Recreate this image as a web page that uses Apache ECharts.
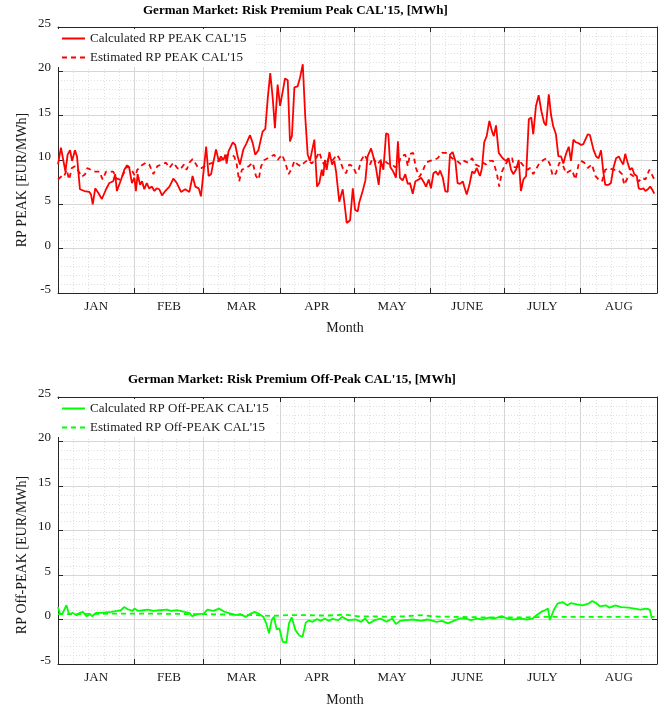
<!DOCTYPE html>
<html>
<head>
<meta charset="utf-8">
<script src="https://cdn.jsdelivr.net/npm/echarts@6/dist/echarts.min.js"></script>
<style>
html,body{margin:0;padding:0;background:#fff;}
#chart{width:659px;height:708px;}
</style>
</head>
<body>
<div id="chart"></div>
<script>
// ---- axis tick data (days counted from 1 Jan) ----
const monthNames = ['JAN','FEB','MAR','APR','MAY','JUNE','JULY','AUG'];
const monthStarts = [0,31,59,90,120,151,181,212,243];
const yTickValues = [-5,0,5,10,15,20,25];

// ---- Peak: calculated ----
const peakCalcDays = [0,1.2,1.9,3.0,3.9,4.9,5.7,6.9,7.7,8.9,
10.7,12.7,13.4,14.1,15.1,16.3,17.8,19.5,20.8,22.4,
23.2,23.9,25.6,26.9,28.0,28.9,30.0,31.0,31.6,32.3,
33.3,34.1,35.0,36.0,37.0,38.1,39.1,40.0,41.1,42.2,
43.5,45.2,46.0,46.8,48.2,49.9,51.6,53.3,54.6,55.7,
57.1,58.0,60.1,61.1,62.1,63.0,64.1,65.2,66.1,67.1,
67.9,68.4,69.2,70.9,71.9,72.9,73.8,75.2,76.3,77.9,
79.0,80.0,81.3,83.0,84.1,85.1,86.1,87.1,88.0,89.1,
90.1,91.2,92.1,93.2,94.1,94.9,95.9,97.2,98.2,99.3,
100.3,101.3,102.2,103.0,104.0,105.1,106.0,107.0,107.6,108.3,
109.0,110.1,111.2,112.1,112.8,114.1,115.5,116.6,117.1,118.5,
119.6,120.5,121.6,122.2,123.6,124.7,125.6,127.0,128.3,129.0,
130.1,131.0,132.0,133.1,134.0,134.8,136.0,137.1,137.9,138.7,
139.8,140.9,141.9,142.8,143.9,145.0,146.3,147.3,148.6,149.3,
150.4,151.3,152.3,153.3,154.2,155.0,156.1,157.1,158.1,159.0,
160.1,161.2,162.1,163.1,164.2,164.8,165.8,166.9,168.0,168.9,
169.9,170.7,171.2,172.0,172.9,173.9,175.0,176.1,176.8,177.7,
178.8,180.4,181.7,182.8,183.8,184.7,185.8,186.9,187.8,188.8,
189.9,191.0,192.0,192.8,193.9,195.0,196.1,197.2,198.0,199.1,
200.0,200.9,202.0,203.0,204.1,205.0,206.1,207.2,208.1,209.1,
210.1,211.2,212.2,213.1,213.9,214.9,215.8,217.2,218.3,219.3,
220.3,221.2,222.0,223.4,224.3,225.3,226.4,227.5,228.4,229.3,
230.1,231.1,232.0,232.9,233.8,234.8,235.6,236.5,237.5,238.3,
239.3,240.2,241.0,241.9];
const peakCalcVals = [9.5,11.4,11.5,8.7,10.6,11.1,9.9,11.1,10.4,6.7,
6.5,6.4,6.1,5.0,6.8,6.3,5.6,6.7,7.4,7.6,
8.4,6.5,7.8,8.9,9.4,9.1,7.4,8.0,6.5,8.4,
7.2,7.6,6.7,7.4,6.8,7.0,6.5,6.8,6.7,6.0,
6.5,7.0,6.8,7.9,7.4,6.4,6.7,6.4,8.2,7.0,
6.8,5.9,11.5,8.2,8.4,9.7,11.2,9.9,10.4,10.0,
10.6,9.6,11.0,12.0,11.7,10.4,9.5,11.2,11.8,12.8,
11.9,10.6,11.1,13.2,13.5,17.0,19.8,17.0,13.6,18.5,
16.1,17.8,19.2,19.0,12.1,12.7,18.2,18.3,19.3,20.8,
14.9,10.6,9.9,9.9,12.3,7.0,7.4,8.9,8.2,10.0,
8.9,10.9,9.5,9.9,8.7,5.3,6.7,4.2,2.9,3.2,
6.8,4.4,4.2,5.2,6.5,7.7,10.4,11.3,10.0,9.1,
7.2,9.9,8.9,13.0,12.9,9.2,8.7,8.0,12.1,8.0,
7.7,8.4,7.3,7.4,6.2,7.6,7.8,8.0,7.4,7.0,
7.8,6.8,8.5,8.7,8.3,8.8,8.0,6.5,6.4,10.6,
10.9,9.9,7.4,7.3,7.6,7.0,6.1,7.2,8.7,8.5,
9.1,8.5,8.2,9.1,12.0,12.7,14.4,13.2,12.7,13.9,
10.8,10.2,9.9,10.2,8.9,8.4,8.9,10.0,6.5,7.8,
8.2,14.6,14.8,12.9,16.1,17.3,15.5,14.2,13.9,17.4,
15.1,13.8,12.9,10.4,10.4,9.6,10.7,11.5,9.9,12.3,
12.0,11.9,11.7,11.8,11.7,12.9,12.8,11.2,10.4,10.2,
11.1,8.7,7.2,7.2,7.4,9.1,10.2,10.4,9.9,9.5,
10.7,9.7,8.9,9.1,8.4,8.2,6.8,6.7,6.8,6.5,
6.7,7.0,6.7,6.2];

// ---- Peak: estimated ----
const peakEstDays = [0,1.5,2.4,3.5,4.5,5.6,6.9,8.2,9.6,11.0,
11.9,13.3,15.0,16.8,18.1,19.5,21.1,22.4,23.8,25.2,
26.5,27.6,28.5,29.9,31.2,32.2,34.0,35.7,37.0,38.7,
40.3,42.1,43.8,45.2,46.8,48.4,49.5,51.1,52.2,53.3,
54.6,55.6,56.9,58.3,60.7,62.9,65.4,67.5,68.8,70.2,
71.5,72.5,73.5,74.6,76.0,77.4,79.0,80.3,81.4,82.4,
83.7,85.1,86.4,87.7,89.1,90.9,92.2,93.6,94.9,95.9,
97.2,98.6,99.9,101.3,103.0,104.7,106.0,107.1,108.4,109.8,
111.2,113.1,114.1,115.5,116.8,118.2,119.6,120.9,122.0,122.9,
124.3,125.6,126.6,127.8,129.4,131.0,132.4,133.9,135.5,136.7,
137.9,139.1,140.9,141.9,142.8,144.1,145.2,146.6,147.9,149.3,
150.9,152.5,154.0,155.8,157.4,159.0,160.8,162.3,163.5,164.8,
166.3,168.0,169.3,170.8,172.3,173.6,175.0,176.5,178.0,179.0,
180.1,181.5,183.1,184.2,185.1,186.4,187.8,189.2,190.5,191.5,
192.8,194.2,195.2,196.9,198.2,199.6,200.7,202.0,203.4,204.7,
206.1,207.2,208.5,209.9,211.2,212.2,213.5,214.9,216.6,218.0,
219.3,220.7,222.0,223.6,225.3,227.1,228.8,229.7,231.1,232.4,
234.2,235.6,236.9,238.3,239.9,241.2,241.9];
const peakEstVals = [7.8,8.2,8.1,8.9,7.8,9.1,9.3,8.8,8.1,8.4,
9.1,8.9,8.7,8.7,7.8,8.7,8.7,8.7,7.9,7.8,
8.4,9.1,9.3,8.9,8.2,8.9,9.4,9.7,9.5,8.4,
9.3,9.5,9.7,9.1,9.7,9.1,8.9,9.5,8.9,9.7,
10.1,9.7,9.1,9.1,9.5,9.7,9.9,10.2,10.6,10.6,
10.4,9.5,7.6,8.9,9.1,9.3,9.7,8.2,7.8,9.3,
10.0,10.2,10.4,10.6,10.0,10.6,9.7,8.4,9.1,9.9,
9.5,9.3,9.7,10.0,9.6,10.2,10.9,9.9,9.3,10.2,
9.9,10.6,10.2,9.1,8.5,9.5,9.3,8.5,8.9,9.9,
10.6,9.9,9.5,10.3,9.5,10.0,9.9,9.6,9.5,9.2,
9.3,10.4,10.6,9.3,10.7,10.8,9.1,8.1,8.7,9.7,
9.9,10.0,10.2,10.8,10.8,10.4,10.0,9.8,9.5,9.9,
9.7,10.2,9.5,9.3,9.7,9.5,9.9,9.9,8.5,7.0,
8.7,9.5,10.2,10.2,9.2,9.2,9.7,9.2,8.9,9.1,
8.4,9.1,9.6,10.0,10.2,9.5,8.2,8.5,9.7,9.5,
8.5,8.7,8.9,7.8,9.5,9.9,9.7,9.1,9.5,8.2,
7.8,7.6,8.9,9.1,8.9,8.9,8.4,7.2,8.0,8.4,
8.0,7.6,8.0,7.8,8.9,8.2,7.8];

// ---- Off-peak: calculated ----
const offCalcDays = [0,0.9,1.8,3.4,4.5,6.0,7.6,8.7,10.2,11.5,
13.1,13.8,15.4,17.7,19.3,21.6,24.0,25.5,26.8,28.3,
30.2,31.0,32.6,34.6,36.5,38.8,41.1,44.3,45.8,48.2,
51.3,53.3,54.4,56.7,59.1,60.6,63.0,65.3,67.7,70.0,
72.3,73.9,76.2,77.8,79.8,81.7,83.3,84.5,85.6,86.7,
87.6,88.7,89.8,91.1,92.6,93.7,94.8,96.3,97.9,99.2,
100.5,101.7,103.2,105.1,106.7,108.2,109.8,111.3,113.7,
115.2,117.6,120.7,123.0,124.6,126.2,128.5,130.9,133.2,135.6,
137.1,138.7,141.0,144.1,147.3,149.6,151.2,153.5,155.8,158.2,
160.5,162.9,165.2,167.6,169.9,172.2,174.6,176.9,180.0,182.3,
184.7,187.8,190.1,192.5,194.1,196.0,197.5,198.8,199.5,201.1,
202.6,204.7,206.6,208.1,210.5,212.8,215.1,216.7,218.3,219.8,
222.2,223.7,226.1,228.4,231.5,233.9,236.2,238.6,240.1,240.9];
const offCalcVals = [1.4,0.6,0.67,1.6,0.6,0.74,0.48,0.74,0.85,0.37,
0.6,0.37,0.74,0.74,0.81,0.85,0.96,1.04,1.4,1.15,
0.96,1.22,0.96,1.04,1.11,0.96,1.04,1.11,0.96,1.04,
0.85,0.74,0.37,0.6,0.67,1.11,0.96,1.22,0.85,0.67,
0.48,0.6,0.3,0.6,0.85,0.6,0.3,-0.44,-1.56,-0.07,
0.3,-1.11,-1.0,-2.48,-2.6,-0.44,0.25,-1.19,-1.8,-1.95,
-0.35,-0.1,-0.26,0.04,-0.15,0.11,-0.15,0.07,-0.07,
0.3,-0.07,0,-0.26,0.11,-0.44,-0.07,0.11,-0.26,0.11,
-0.52,-0.15,-0.07,0,-0.15,0,-0.07,-0.26,-0.15,-0.44,
-0.15,0.11,0.11,-0.07,0.11,0,0.22,0.11,0.37,0.11,
0,0.11,0,0.11,0.48,0.85,1.04,1.22,-0.07,1.04,
1.78,1.96,1.59,1.85,1.7,1.59,1.78,2.07,1.85,1.48,
1.59,1.33,1.59,1.4,1.33,1.22,1.11,1.22,1.11,0.11];

// ---- Off-peak: estimated ----
const offEstDays = [0,10,20,30,40,50,60,70,80,86,90,95,100,105,110,116,118,122,128,135,140,148,152,160,170,180,190,200,210,220,230,242];
const offEstVals = [0.6,0.62,0.65,0.65,0.65,0.62,0.6,0.55,0.5,0.4,0.45,0.5,0.5,0.45,0.45,0.55,0.5,0.35,0.35,0.3,0.35,0.5,0.35,0.3,0.25,0.25,0.25,0.3,0.3,0.3,0.3,0.3];

// ---------------------------------------------
const FONT = '"Liberation Serif", "Times New Roman", serif';
const monthMids = monthNames.map((m, i) => (monthStarts[i] + monthStarts[i + 1]) / 2);
const minorX = [];
for (let i = 0; i < monthNames.length; i++) {
  const len = monthStarts[i + 1] - monthStarts[i];
  for (let k = 1; k < 5; k++) minorX.push(monthStarts[i] + k * len / 5);
}
const pairs = (d, v) => d.map((x, i) => [x, v[i]]);
const AX = '#262626';
const MAJ = '#d6d6d6';
const MIN = '#e0e0e0';

function xAxes(g) {
  const base = {gridIndex: g, type: 'value', min: monthStarts[0], max: monthStarts[monthStarts.length - 1]};
  return [
    Object.assign({}, base, {
      position: 'bottom',
      axisLine: {show: true, onZero: false, lineStyle: {color: AX, width: 1}},
      axisTick: {show: true, inside: true, length: 5, customValues: monthStarts, lineStyle: {color: AX}},
      axisLabel: {
        customValues: monthMids, margin: 7, color: '#1a1a1a', fontFamily: FONT, fontSize: 13,
        formatter: v => { const i = monthMids.findIndex(m => Math.abs(m - v) < 0.01); return i >= 0 ? monthNames[i] : ''; }
      },
      splitLine: {show: true, lineStyle: {color: MAJ, width: 1}}
    }),
    Object.assign({}, base, {
      position: 'top',
      axisLine: {show: true, onZero: false, lineStyle: {color: AX, width: 1}},
      axisTick: {show: true, inside: true, length: 5, customValues: monthStarts, lineStyle: {color: AX}},
      axisLabel: {show: false},
      splitLine: {show: false}
    }),
    Object.assign({}, base, {
      position: 'bottom',
      axisLine: {show: false},
      axisTick: {show: false, customValues: minorX},
      axisLabel: {show: false},
      splitLine: {show: true, lineStyle: {color: MIN, width: 1, type: [1, 2]}}
    })
  ];
}
function yAxes(g) {
  const base = {gridIndex: g, type: 'value', min: yTickValues[0], max: yTickValues[yTickValues.length - 1], interval: 5};
  return [
    Object.assign({}, base, {
      position: 'left',
      axisLine: {show: true, onZero: false, lineStyle: {color: AX, width: 1}},
      axisTick: {show: true, inside: true, length: 5, lineStyle: {color: AX}},
      axisLabel: {color: '#1a1a1a', fontFamily: FONT, fontSize: 13, margin: 7, verticalAlign: 'bottom', lineHeight: 7},
      splitLine: {show: true, lineStyle: {color: MAJ, width: 1}},
      minorTick: {show: false, splitNumber: 5},
      minorSplitLine: {show: true, lineStyle: {color: MIN, width: 1, type: [1, 2]}}
    }),
    Object.assign({}, base, {
      position: 'right',
      axisLine: {show: true, onZero: false, lineStyle: {color: AX, width: 1}},
      axisTick: {show: true, inside: true, length: 5, lineStyle: {color: AX}},
      axisLabel: {show: false},
      splitLine: {show: false}
    })
  ];
}

function lineSeries(name, xi, yi, data, color, dashed) {
  return {
    name, type: 'line', xAxisIndex: xi, yAxisIndex: yi, data,
    symbol: 'none', showSymbol: false, smooth: false, animation: false,
    lineStyle: {color, width: 1.8, type: dashed ? [5, 4] : 'solid'},
    itemStyle: {color}
  };
}

const legendBase = {
  orient: 'vertical', itemWidth: 23, itemHeight: 12, itemGap: 6,
  backgroundColor: '#ffffff', padding: [3, 8, 3, 3],
  itemStyle: {opacity: 0},
  textStyle: {fontFamily: FONT, fontSize: 13, color: '#1a1a1a'},
  selectedMode: false
};

const option = {
  animation: false,
  backgroundColor: '#ffffff',
  title: [
    {text: "German Market: Risk Premium Peak CAL'15, [MWh]", left: 143, top: 4, padding: 0,
     textStyle: {fontFamily: FONT, fontSize: 13, fontWeight: 'bold', color: '#000'}},
    {text: "German Market: Risk Premium Off-Peak CAL'15, [MWh]", left: 128, top: 373, padding: 0,
     textStyle: {fontFamily: FONT, fontSize: 13, fontWeight: 'bold', color: '#000'}}
  ],
  grid: [
    {left: 58, top: 27, width: 599, height: 266, containLabel: false},
    {left: 58, top: 397, width: 599, height: 267, containLabel: false}
  ],
  xAxis: xAxes(0).concat(xAxes(1)),
  yAxis: yAxes(0).concat(yAxes(1)),
  legend: [
    Object.assign({}, legendBase, {left: 58, top: 29, data: ["Calculated RP PEAK CAL'15", "Estimated RP PEAK CAL'15"]}),
    Object.assign({}, legendBase, {left: 58, top: 399, data: ["Calculated RP Off-PEAK CAL'15", "Estimated RP Off-PEAK CAL'15"]})
  ],
  graphic: [
    {type: 'text', x: 345, y: 328, style: {text: 'Month', fontFamily: FONT, fontSize: 14, fill: '#1a1a1a', align: 'center', verticalAlign: 'middle'}},
    {type: 'text', x: 345, y: 700, style: {text: 'Month', fontFamily: FONT, fontSize: 14, fill: '#1a1a1a', align: 'center', verticalAlign: 'middle'}},
    {type: 'text', x: 22, y: 180, rotation: Math.PI / 2, style: {text: 'RP PEAK [EUR/MWh]', fontFamily: FONT, fontSize: 14, fill: '#1a1a1a', align: 'center', verticalAlign: 'middle'}},
    {type: 'text', x: 22, y: 555, rotation: Math.PI / 2, style: {text: 'RP Off-PEAK [EUR/MWh]', fontFamily: FONT, fontSize: 14, fill: '#1a1a1a', align: 'center', verticalAlign: 'middle'}}
  ],
  series: [
    lineSeries("Calculated RP PEAK CAL'15", 0, 0, pairs(peakCalcDays, peakCalcVals), '#ff0000', false),
    lineSeries("Estimated RP PEAK CAL'15", 0, 0, pairs(peakEstDays, peakEstVals), '#ff0000', true),
    lineSeries("Calculated RP Off-PEAK CAL'15", 3, 2, pairs(offCalcDays, offCalcVals), '#00ff00', false),
    lineSeries("Estimated RP Off-PEAK CAL'15", 3, 2, pairs(offEstDays, offEstVals), '#00ff00', true)
  ]
};

const chart = echarts.init(document.getElementById('chart'), null, {renderer: 'canvas'});
chart.setOption(option);
</script>
</body>
</html>
